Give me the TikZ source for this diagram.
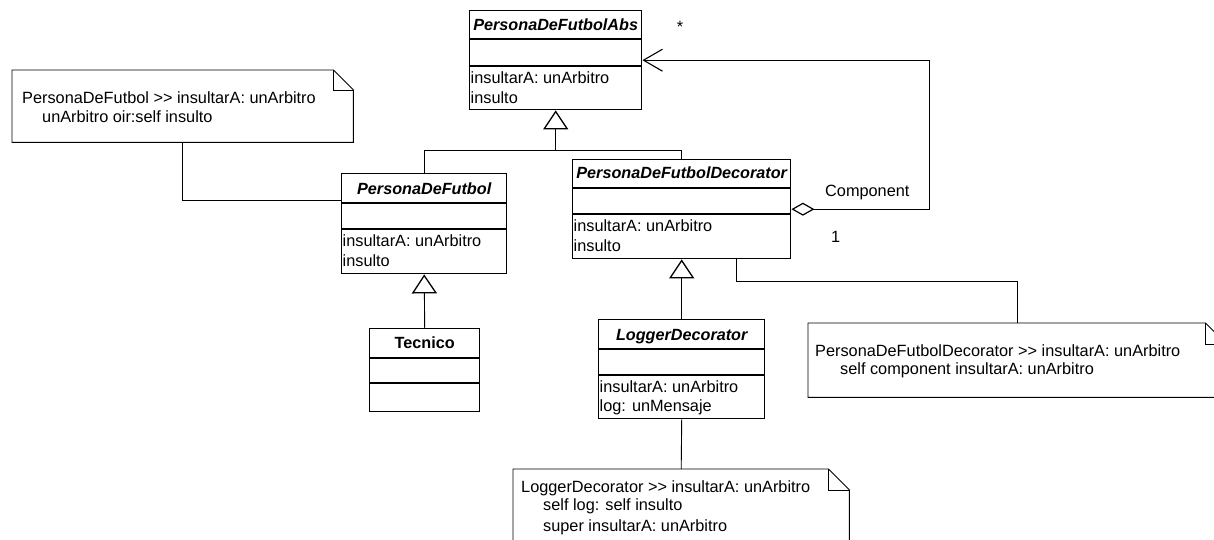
\documentclass[tikz,border=0pt]{standalone}
\usepackage{fontspec}
\setmainfont{Liberation Sans}
\usetikzlibrary{arrows.meta,calc}

% class frame: name, x, y, width, height, first divider, second divider
\newcommand{\classframe}[7]{%
  \node[classbox, minimum width=#4pt, minimum height=#5pt] (#1) at (#2,#3) {};
  \draw[line width=1.4pt] ($(#1.north west)+(0,#6)$) -- ($(#1.north east)+(0,#6)$);
  \draw[line width=1.4pt] ($(#1.north west)+(0,#7)$) -- ($(#1.north east)+(0,#7)$);
}
% note outline with folded corner: name, ear size
\newcommand{\notepaper}[2]{%
  \draw[notebody] (#1.north west) -- ($(#1.north east)+(-#2,0)$) -- ($(#1.north east)+(0,#2)$)
    -- (#1.south east) -- (#1.south west) -- cycle;
  \draw[notebody] ($(#1.north east)+(-#2,0)$) -- ++(0,#2) -- ($(#1.north east)+(0,#2)$);
}

\begin{document}
\begin{tikzpicture}[x=1pt,y=-1pt,
  font=\fontsize{16.3}{19.5}\selectfont,
  classbox/.style={draw, line width=1.4pt, inner sep=0pt, anchor=north west},
  notebox/.style={inner sep=0pt, anchor=north west},
  txt/.style={inner sep=0pt, anchor=base west},
  ttl/.style={inner sep=0pt, anchor=base, font=\fontsize{16.2}{19.5}\selectfont\bfseries\itshape},
  link/.style={line width=0.9pt},
  notebody/.style={line width=0.9pt},
  inherit/.style={link, -{Triangle[open, fill=white, line width=1.3pt, length=19pt, width=25pt]}},
  aggr/.style={link, {Diamond[open, fill=white, line width=1.2pt, length=23pt, width=13pt]}-{Straight Barb[line width=1.1pt, length=19pt, width=22pt]}},
]
\useasboundingbox (0,0) rectangle (1214,540);
\clip (0,0) rectangle (1214,540);

% classes
\classframe{abs}{469}{10}{172}{99}{29}{56}
\classframe{pdf}{341}{173}{165}{100}{30}{56}
\classframe{tec}{369}{328}{110}{83}{30}{55}
\classframe{dec}{572}{159}{218}{99}{29}{55}
\classframe{log}{598}{319}{166}{99}{30}{56}

\node[ttl] (abs-t) at ($(abs.north)+(0,20.5)$) {PersonaDeFutbolAbs};
\node[txt] (abs-o1) at ($(abs.north west)+(1.5,74)$) {insultarA: unArbitro};
\node[txt] (abs-o2) at ($(abs.north west)+(1.5,93.5)$) {insulto};

\node[ttl] (pdf-t) at ($(pdf.north)+(0,21)$) {PersonaDeFutbol};
\node[txt] (pdf-o1) at ($(pdf.north west)+(1.5,73.7)$) {insultarA: unArbitro};
\node[txt] (pdf-o2) at ($(pdf.north west)+(1.5,93)$) {insulto};

\node[ttl, font=\fontsize{16.2}{19.5}\selectfont\bfseries] (tec-t) at ($(tec.north)+(0,20.3)$) {Tecnico};

\node[ttl] (dec-t) at ($(dec.north)+(0,19.5)$) {PersonaDeFutbolDecorator};
\node[txt] (dec-o1) at ($(dec.north west)+(1.5,72.7)$) {insultarA: unArbitro};
\node[txt] (dec-o2) at ($(dec.north west)+(1.5,92)$) {insulto};

\node[ttl] (log-t) at ($(log.north)+(0,21.5)$) {LoggerDecorator};
\node[txt] (log-o1) at ($(log.north west)+(1.5,73.7)$) {insultarA: unArbitro};
\node[txt] (log-o2) at ($(log.north west)+(1.5,92.7)$) {log: unMensaje};

% notes
\node[notebox, minimum width=341pt, minimum height=72pt] (note1) at (12,70) {};
\node[notebox, minimum width=418pt, minimum height=74pt] (note2) at (808,323) {};
\node[notebox, minimum width=336pt, minimum height=100pt] (note3) at (513,469) {};
\notepaper{note1}{20}
\notepaper{note2}{21}
\notepaper{note3}{21}

\node[txt] (n1a) at (22,103.3) {PersonaDeFutbol >\kern0pt> insultarA: unArbitro};
\node[txt] (n1b) at (42,122.3) {unArbitro oir:self insulto};
\node[txt] (n2a) at (815,356) {PersonaDeFutbolDecorator >\kern0pt> insultarA: unArbitro};
\node[txt] (n2b) at (840,374.5) {self component insultarA: unArbitro};
\node[txt] (n3a) at (521,492.3) {LoggerDecorator >\kern0pt> insultarA: unArbitro};
\node[txt] (n3b) at (543,510.5) {self log: self insulto};
\node[txt] (n3c) at (543,531.5) {super insultarA: unArbitro};

% generalizations
\coordinate (bus) at ($(abs.south)+(0,40)$);
\draw[inherit] (bus) -- (abs.south);
\draw[link] (pdf.north) |- (bus) -| (dec.north);
\draw[inherit] (tec.north) -- (pdf.south);
\draw[inherit] (log.north) -- (dec.south);

% aggregation with its role and multiplicities
\coordinate (aggturn) at ($(dec.east)+(138,0)$);
\draw[aggr] (dec.east) -- (aggturn) |- (abs.east);
\node[inner sep=0pt] (mstar) at (680,27) {*};
\node[txt] (role) at (825,196.7) {Component};
\node[txt] (mone) at (831,242.3) {1};

% note anchors
\draw[link] (note1.south) |- ($(pdf.north west)+(0,27)$);
\draw[link] ($(dec.south east)+(-55,0)$) -- ++(0,22) -| (note2.north);
\draw[link] (log.south) -- (note3.north);
\end{tikzpicture}
\end{document}
